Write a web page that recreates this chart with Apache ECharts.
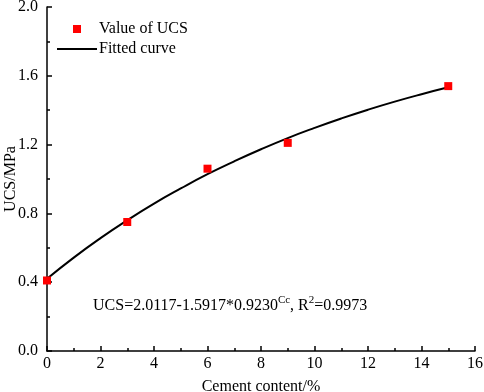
<!DOCTYPE html>
<html>
<head>
<meta charset="utf-8">
<script src="https://cdn.jsdelivr.net/npm/echarts@6/dist/echarts.min.js"></script>
<style>
    html, body { margin: 0; padding: 0; background: #fff; }
    #chart { width: 484px; height: 392px; }
</style>
</head>
<body>
<div id="chart"></div>
<script>
// measured UCS values
var cementContent = [0, 3, 6, 9, 15];
var ucsValues = [0.41, 0.75, 1.06, 1.21, 1.54];

// fitted curve
var curveX = [0, 1, 2, 3, 4, 5, 6, 7, 8, 9, 10, 11, 12, 13, 14, 15];
var curveY = [0.420, 0.543, 0.656, 0.760, 0.857, 0.945, 1.028, 1.103, 1.173, 1.238, 1.297, 1.352, 1.403, 1.450, 1.493, 1.533];

var font = '"Liberation Serif", "Times New Roman", serif';

var chart = echarts.init(document.getElementById('chart'));
chart.setOption({
    animation: false,
    backgroundColor: '#fff',
    textStyle: { fontFamily: font },
    grid: { left: 47, right: 9, top: 7, bottom: 41, containLabel: false, outerBoundsMode: 'none' },
    title: {
        left: 88,
        top: 290,
        text: '{t|UCS=2.0117-1.5917*0.9230}{s|Cc}{t|, R}{s|2}{t|=0.9973}',
        textStyle: {
            fontWeight: 'normal',
            rich: {
                t: { fontFamily: font, fontSize: 16, fontWeight: 'normal', color: '#000', verticalAlign: 'bottom', lineHeight: 19 },
                s: { fontFamily: font, fontSize: 11, fontWeight: 'normal', color: '#000', verticalAlign: 'top', lineHeight: 19, padding: [0, 0, 6, 0] }
            }
        }
    },
    legend: {
        orient: 'vertical',
        left: 57,
        top: 21,
        padding: 0,
        itemWidth: 40,
        itemHeight: 8,
        itemGap: 4,
        textStyle: { fontFamily: font, fontSize: 16, color: '#000', padding: [0, 0, 0, -3] },
        data: [
            { name: 'Value of UCS', icon: 'path://M0,0h1v1h-1z' },
            { name: 'Fitted curve', icon: 'path://M0,0h40v2h-40z' }
        ]
    },
    xAxis: {
        type: 'value',
        min: 0,
        max: 16,
        interval: 2,
        name: 'Cement content/%',
        nameLocation: 'middle',
        nameGap: 28,
        nameMoveOverlap: false,
        nameTextStyle: { fontFamily: font, fontSize: 16, color: '#000' },
        axisLine: { onZero: false, lineStyle: { color: '#000', width: 1.5 } },
        axisTick: { inside: true, length: 5, lineStyle: { color: '#000', width: 1.5 } },
        minorTick: { show: true, splitNumber: 2, length: 3, lineStyle: { color: '#000', width: 1.5 } },
        axisLabel: { fontFamily: font, fontSize: 16, color: '#000', margin: 5 },
        splitLine: { show: false }
    },
    yAxis: {
        type: 'value',
        min: 0,
        max: 2,
        interval: 0.4,
        name: 'UCS/MPa',
        nameLocation: 'middle',
        nameGap: 28,
        nameMoveOverlap: false,
        nameTextStyle: { fontFamily: font, fontSize: 16, color: '#000' },
        axisLine: { onZero: false, lineStyle: { color: '#000', width: 1.5 } },
        axisTick: { inside: true, length: 5, lineStyle: { color: '#000', width: 1.5 } },
        minorTick: { show: true, splitNumber: 2, length: 3, lineStyle: { color: '#000', width: 1.5 } },
        axisLabel: {
            fontFamily: font, fontSize: 16, color: '#000', margin: 9,
            formatter: function (v) { return v.toFixed(1); }
        },
        splitLine: { show: false }
    },
    series: [
        {
            name: 'Fitted curve',
            type: 'line',
            smooth: true,
            showSymbol: false,
            symbol: 'none',
            data: curveX.map(function (x, i) { return [x, curveY[i]]; }),
            lineStyle: { color: '#000', width: 2 },
            itemStyle: { color: '#000' },
            z: 2
        },
        {
            name: 'Value of UCS',
            type: 'scatter',
            symbol: 'rect',
            symbolSize: 8,
            clip: false,
            data: cementContent.map(function (x, i) { return [x, ucsValues[i]]; }),
            itemStyle: { color: '#ff0000', opacity: 1 },
            z: 3
        }
    ]
});
</script>
</body>
</html>
